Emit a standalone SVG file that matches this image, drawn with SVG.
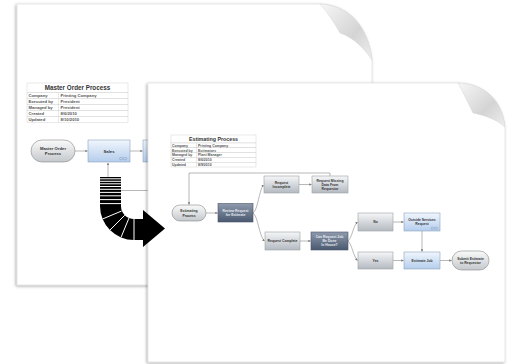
<svg xmlns="http://www.w3.org/2000/svg" width="509" height="364" viewBox="0 0 509 364">
<defs>
<filter id="sh" x="-10%" y="-10%" width="120%" height="120%"><feDropShadow dx="-1" dy="1" stdDeviation="1.6" flood-color="#000" flood-opacity="0.35"/></filter>
<linearGradient id="flap" x1="0" y1="0" x2="1" y2="1"><stop offset="0" stop-color="#f7f7f7"/><stop offset="0.6" stop-color="#d4d4d4"/><stop offset="1" stop-color="#efefef"/></linearGradient>
<linearGradient id="gPill" x1="0" y1="0" x2="0" y2="1"><stop offset="0" stop-color="#fafafa"/><stop offset="1" stop-color="#c4c8cc"/></linearGradient>
<linearGradient id="gBlue" x1="0" y1="0" x2="0" y2="1"><stop offset="0" stop-color="#f1f6fd"/><stop offset="1" stop-color="#b4cdec"/></linearGradient>
<linearGradient id="gGray" x1="0" y1="0" x2="0" y2="1"><stop offset="0" stop-color="#f5f6f7"/><stop offset="1" stop-color="#b4bac1"/></linearGradient>
<linearGradient id="gDark" x1="0" y1="0" x2="0" y2="1"><stop offset="0" stop-color="#8e9aac"/><stop offset="1" stop-color="#4a5970"/></linearGradient>
<marker id="ah" viewBox="0 0 6 6" refX="5.5" refY="3" markerWidth="4" markerHeight="4" orient="auto"><path d="M0,0 L6,3 L0,6 Z" fill="#777"/></marker>
<style>
.page{fill:#fff;stroke:#d8d8d8;stroke-width:0.6}
.tb{fill:#fff;stroke:#c8c8c8;stroke-width:0.4}
.tt{font-family:"Liberation Sans",Arial,sans-serif;font-weight:bold;fill:#333}
.tr{font-family:"Liberation Sans",Arial,sans-serif;font-weight:bold;fill:#555}
.pill{fill:url(#gPill);stroke:#888;stroke-width:0.6}
.blue{fill:url(#gBlue);stroke:#8da3bd;stroke-width:0.6}
.gray{fill:url(#gGray);stroke:#9aa0a6;stroke-width:0.6}
.dark{fill:url(#gDark);stroke:#4a5568;stroke-width:0.6}
.nt{font-family:"Liberation Sans",Arial,sans-serif;font-weight:bold;fill:#333;text-anchor:middle}
.nw{font-family:"Liberation Sans",Arial,sans-serif;font-weight:bold;fill:#e8ecf2;text-anchor:middle}
.cn{fill:none;stroke:#888;stroke-width:0.6}
.wl{stroke:#fff;fill:none}
</style>
</defs>

<!-- back page -->
<g id="backPage">
<path class="page" filter="url(#sh)" d="M17,4 L320,4 C348,5 368,25 372,60 L372,285 L17,285 Z"/>
<path fill="url(#flap)" stroke="#d0d0d0" stroke-width="0.4" d="M320,4 C348,5 368,25 372,60 C362,45 350,36 340,33 C334,22 327,12 320,4 Z"/>
</g>

<g id="masterTable">
<rect class="tb" x="27" y="83" width="101" height="9.5"/>
<rect class="tb" x="27" y="92.5" width="101" height="6"/>
<rect class="tb" x="27" y="98.5" width="101" height="6"/>
<rect class="tb" x="27" y="104.5" width="101" height="6"/>
<rect class="tb" x="27" y="110.5" width="101" height="6"/>
<rect class="tb" x="27" y="116.5" width="101" height="6"/>
<line x1="58.5" y1="92.5" x2="58.5" y2="122.5" stroke="#c8c8c8" stroke-width="0.4"/>
<text class="tt" x="77.5" y="90.3" font-size="6.3" text-anchor="middle">Master Order Process</text>
<g class="tr" font-size="4.2">
<text x="28.5" y="97.3">Company</text><text x="60.5" y="97.3">Printing Company</text>
<text x="28.5" y="103.3">Executed by</text><text x="60.5" y="103.3">President</text>
<text x="28.5" y="109.3">Managed by</text><text x="60.5" y="109.3">President</text>
<text x="28.5" y="115.3">Created</text><text x="60.5" y="115.3">8/6/2010</text>
<text x="28.5" y="121.3">Updated</text><text x="60.5" y="121.3">8/10/2010</text>
</g>
</g>

<g id="backConnectors">
<line class="cn" x1="75" y1="151" x2="87.5" y2="151" marker-end="url(#ah)"/>
<line class="cn" x1="130" y1="151" x2="142.5" y2="151" marker-end="url(#ah)"/>
<line class="cn" x1="108" y1="177" x2="108" y2="163" marker-end="url(#ah)"/>
<line class="cn" x1="121" y1="190.5" x2="148" y2="190.5"/>
</g>

<g id="masterOrder">
<rect class="pill" x="31" y="140" width="44" height="22" rx="11"/>
<text class="nt" font-size="4.2" x="53" y="150">Master Order</text>
<text class="nt" font-size="4.2" x="53" y="155">Process</text>
</g>
<g id="sales">
<rect class="blue" x="88" y="140" width="42" height="22"/>
<text class="nt" font-size="4.2" x="109" y="152.5">Sales</text>
<rect x="119.5" y="157.5" width="3.2" height="2.2" rx="1" fill="none" stroke="#7088a8" stroke-width="0.4"/>
<rect x="123.5" y="157.5" width="3.2" height="2.2" rx="1" fill="none" stroke="#7088a8" stroke-width="0.4"/>
</g>
<g id="nextBox">
<rect class="blue" x="143" y="140" width="30" height="22"/>
</g>

<!-- front page -->
<g id="frontPage">
<path class="page" filter="url(#sh)" d="M148,83 L458,83 C485,84 502,100 505,127 L505,362 L148,362 Z"/>
<path fill="url(#flap)" stroke="#d0d0d0" stroke-width="0.4" d="M458,83 C485,84 502,100 505,127 C495,118 482,115 473,113 C468,103 463,92 458,83 Z"/>
</g>

<!-- big transfer arrow -->
<g id="bigArrow">
<path fill="#000" d="M100,177 L121,177 L121,206 A13,13 0 0 0 134,219 L143,219 L143,210 L165,228.5 L143,247 L143,240 L134,240 A34,34 0 0 1 100,206 Z"/>
<g class="wl" stroke-width="1">
<line x1="100" y1="178.8" x2="121" y2="178.8"/>
<line x1="100" y1="181.3" x2="121" y2="181.3"/>
<line x1="100" y1="183.8" x2="121" y2="183.8"/>
<line x1="100" y1="186.5" x2="121" y2="186.5"/>
<line x1="100" y1="189.3" x2="121" y2="189.3"/>
<line x1="100" y1="192.4" x2="121" y2="192.4"/>
<line x1="100" y1="195.8" x2="121" y2="195.8"/>
<line x1="100" y1="199.6" x2="121" y2="199.6"/>
<line x1="100" y1="203.6" x2="121" y2="203.6"/>
<line x1="121.6" y1="211" x2="102.5" y2="219"/>
<line x1="124.8" y1="215.2" x2="110" y2="230"/>
<line x1="129" y1="218" x2="121" y2="237.4"/>
<line x1="134" y1="219" x2="134" y2="240"/>
</g>
</g>

<g id="estTable">
<rect class="tb" x="171" y="135" width="85" height="8"/>
<rect class="tb" x="171" y="143" width="85" height="4.8"/>
<rect class="tb" x="171" y="147.8" width="85" height="4.8"/>
<rect class="tb" x="171" y="152.6" width="85" height="4.8"/>
<rect class="tb" x="171" y="157.4" width="85" height="4.8"/>
<rect class="tb" x="171" y="162.2" width="85" height="4.8"/>
<line x1="196.5" y1="143" x2="196.5" y2="167" stroke="#c8c8c8" stroke-width="0.4"/>
<text class="tt" x="213.5" y="141.2" font-size="5.3" text-anchor="middle">Estimating Process</text>
<g class="tr" font-size="3.5">
<text x="172" y="146.7">Company</text><text x="198" y="146.7">Printing Company</text>
<text x="172" y="151.5">Executed by</text><text x="198" y="151.5">Estimators</text>
<text x="172" y="156.3">Managed by</text><text x="198" y="156.3">Plant Manager</text>
<text x="172" y="161.1">Created</text><text x="198" y="161.1">8/6/2010</text>
<text x="172" y="165.9">Updated</text><text x="198" y="165.9">8/9/2010</text>
</g>
</g>

<g id="connectors">
<path class="cn" d="M330,176.5 L330,173 L189,173 L189,204.5" marker-end="url(#ah)"/>
<line class="cn" x1="206" y1="213" x2="217.5" y2="213" marker-end="url(#ah)"/>
<path class="cn" d="M253,213 C258,210 259,190 263.5,185" marker-end="url(#ah)"/>
<path class="cn" d="M253,213 C258,216 259,236 264.5,241" marker-end="url(#ah)"/>
<line class="cn" x1="299" y1="184.5" x2="311.5" y2="184.5" marker-end="url(#ah)"/>
<line class="cn" x1="300" y1="241" x2="310.5" y2="241" marker-end="url(#ah)"/>
<path class="cn" d="M348,241 C352,238 353,226 357.5,222" marker-end="url(#ah)"/>
<path class="cn" d="M348,241 C352,244 353,256 357.5,260.5" marker-end="url(#ah)"/>
<line class="cn" x1="393" y1="222" x2="403.5" y2="222" marker-end="url(#ah)"/>
<line class="cn" x1="393" y1="260.5" x2="403.5" y2="260.5" marker-end="url(#ah)"/>
<line class="cn" x1="422" y1="231" x2="422" y2="251.5" marker-end="url(#ah)"/>
<line class="cn" x1="440" y1="260.5" x2="451.5" y2="260.5" marker-end="url(#ah)"/>
</g>

<g id="estimatingProcess">
<rect class="pill" x="172" y="205" width="34" height="16" rx="8"/>
<text class="nt" font-size="3.4" x="189" y="212.3">Estimating</text>
<text class="nt" font-size="3.4" x="189" y="216.5">Process</text>
</g>
<g id="reviewRequest">
<rect class="dark" x="218" y="203.5" width="35" height="18.5"/>
<text class="nw" font-size="3.4" x="235.5" y="211.8">Review Request</text>
<text class="nw" font-size="3.4" x="235.5" y="216">for Estimate</text>
</g>
<g id="requestIncomplete">
<rect class="gray" x="264" y="176" width="35" height="17"/>
<text class="nt" font-size="3.4" x="281.5" y="183.6">Request</text>
<text class="nt" font-size="3.4" x="281.5" y="187.8">Incomplete</text>
</g>
<g id="requestMissing">
<rect class="gray" x="312" y="176" width="36" height="17"/>
<text class="nt" font-size="3.4" x="330" y="181.6">Request Missing</text>
<text class="nt" font-size="3.4" x="330" y="185.8">Data From</text>
<text class="nt" font-size="3.4" x="330" y="190">Requestor</text>
</g>
<g id="requestComplete">
<rect class="gray" x="265" y="232" width="35" height="18"/>
<text class="nt" font-size="3.4" x="282.5" y="242.2">Request Complete</text>
</g>
<g id="canRequest">
<rect class="dark" x="311" y="232" width="37" height="18"/>
<text class="nw" font-size="3.4" x="329.5" y="237.6">Can Request Job</text>
<text class="nw" font-size="3.4" x="329.5" y="241.8">Be Done</text>
<text class="nw" font-size="3.4" x="329.5" y="246">In House?</text>
</g>
<g id="no">
<rect class="gray" x="358" y="213" width="35" height="18"/>
<text class="nt" font-size="3.4" x="375.5" y="223.2">No</text>
</g>
<g id="yes">
<rect class="gray" x="358" y="252" width="35" height="17"/>
<text class="nt" font-size="3.4" x="375.5" y="261.7">Yes</text>
</g>
<g id="outsideServices">
<rect class="blue" x="404" y="213" width="36" height="18"/>
<text class="nt" font-size="3.4" x="422" y="220.5">Outside Services</text>
<text class="nt" font-size="3.4" x="422" y="224.7">Request</text>
<rect x="431" y="227.2" width="3" height="2" rx="0.9" fill="none" stroke="#7088a8" stroke-width="0.35"/>
<rect x="434.6" y="227.2" width="3" height="2" rx="0.9" fill="none" stroke="#7088a8" stroke-width="0.35"/>
</g>
<g id="estimateJob">
<rect class="blue" x="404" y="252" width="36" height="17"/>
<text class="nt" font-size="3.4" x="422" y="261.7">Estimate Job</text>
</g>
<g id="submitEstimate">
<rect class="pill" x="452" y="251" width="37" height="19" rx="9.5"/>
<text class="nt" font-size="3.4" x="470.5" y="259.6">Submit Estimate</text>
<text class="nt" font-size="3.4" x="470.5" y="263.8">to Requestor</text>
</g>
</svg>
